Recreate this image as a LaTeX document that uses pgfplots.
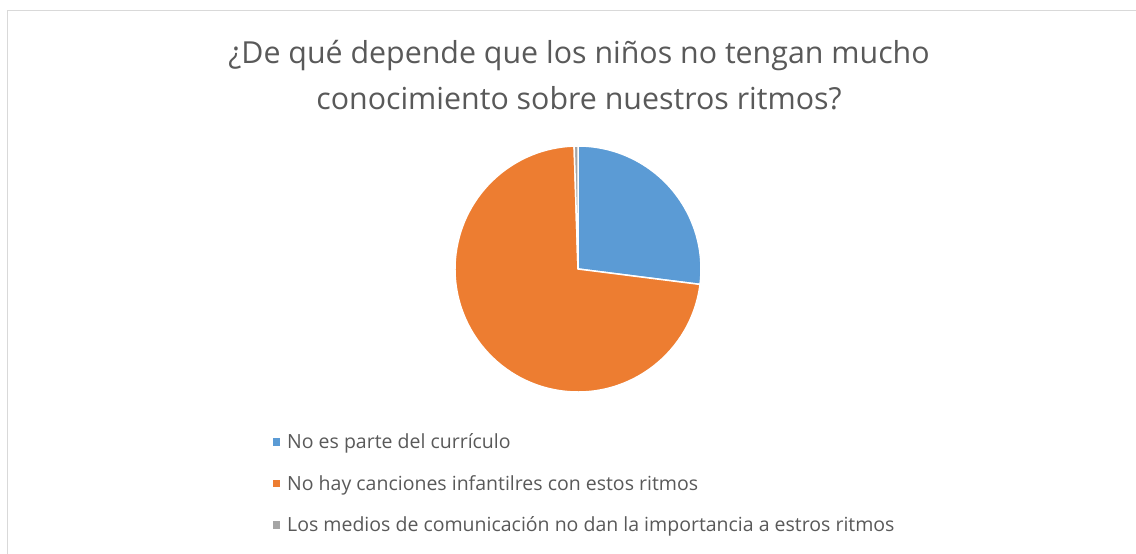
\documentclass[border=0pt]{standalone}
\usepackage{pgfplots}
\pgfplotsset{compat=1.18}
\usepackage{pgfplotstable}
\usepackage{fontspec}
\setmainfont{Open Sans}
\definecolor{cBlue}{HTML}{5B9BD5}
\definecolor{cOrange}{HTML}{ED7D31}
\definecolor{cGray}{HTML}{A5A5A5}
\definecolor{cText}{HTML}{595959}
\definecolor{cBorder}{HTML}{D9D9D9}

\pgfplotstableread{
label value
A 27.0
B 72.5
C 0.5
}\piedata

\begin{document}%
\begin{tikzpicture}[x=1pt,y=1pt]
\pgfplotstablegetelem{0}{value}\of\piedata \let\va\pgfplotsretval
\pgfplotstablegetelem{1}{value}\of\piedata \let\vb\pgfplotsretval
\pgfplotstablegetelem{2}{value}\of\piedata \let\vc\pgfplotsretval
\pgfmathsetmacro{\aA}{90}
\pgfmathsetmacro{\aB}{90-3.6*\va}
\pgfmathsetmacro{\aC}{90-3.6*(\va+\vb)}
\pgfmathsetmacro{\aD}{90-3.6*(\va+\vb+\vc)}
\begin{scope}
\clip (0,0) rectangle (1136,554);
\draw[cBorder, line width=1.5pt] (7.5,-5) -- (7.5,543.5) -- (1145,543.5);
\end{scope}
\begin{axis}[
  at={(578pt,285pt)}, anchor=center,
  scale only axis, width=246pt, height=246pt,
  xmin=-1, xmax=1, ymin=-1, ymax=1,
  hide axis, clip=false,
]
\fill[cBlue, draw=white, line width=1.5pt] (axis cs:0,0) -- (axis cs:{cos(\aA)},{sin(\aA)}) arc[start angle=\aA, end angle=\aB, radius=123pt] -- cycle;
\fill[cOrange, draw=white, line width=1.5pt] (axis cs:0,0) -- (axis cs:{cos(\aB)},{sin(\aB)}) arc[start angle=\aB, end angle=\aC, radius=123pt] -- cycle;
\fill[cGray, draw=white, line width=1.5pt] (axis cs:0,0) -- (axis cs:{cos(\aC)},{sin(\aC)}) arc[start angle=\aC, end angle=\aD, radius=123pt] -- cycle;
\end{axis}
\node[anchor=base, text=cText, font=\fontsize{30.35}{36}\selectfont, inner sep=0] at (579,{554-63.3}) {¿De qué depende que los niños no tengan mucho};
\node[anchor=base, text=cText, font=\fontsize{30.35}{36}\selectfont, inner sep=0] at (579,{554-110}) {conocimiento sobre nuestros ritmos?};
\foreach \c/\t [count=\i from 0] in {cBlue/No es parte del currículo, cOrange/No hay canciones infantilres con estos ritmos, cGray/Los medios de comunicación no dan la importancia a estros ritmos}{
  \fill[\c] (272.5,{554-446-41.5*\i}) rectangle ++(7.5,7.5);
  \node[anchor=base west, text=cText, font=\fontsize{19.5}{22}\selectfont, inner sep=0] at (287,{554-449-41.5*\i}) {\t};
}
\pgfresetboundingbox
\path (0,0) rectangle (1136,554);
\end{tikzpicture}%
\end{document}
